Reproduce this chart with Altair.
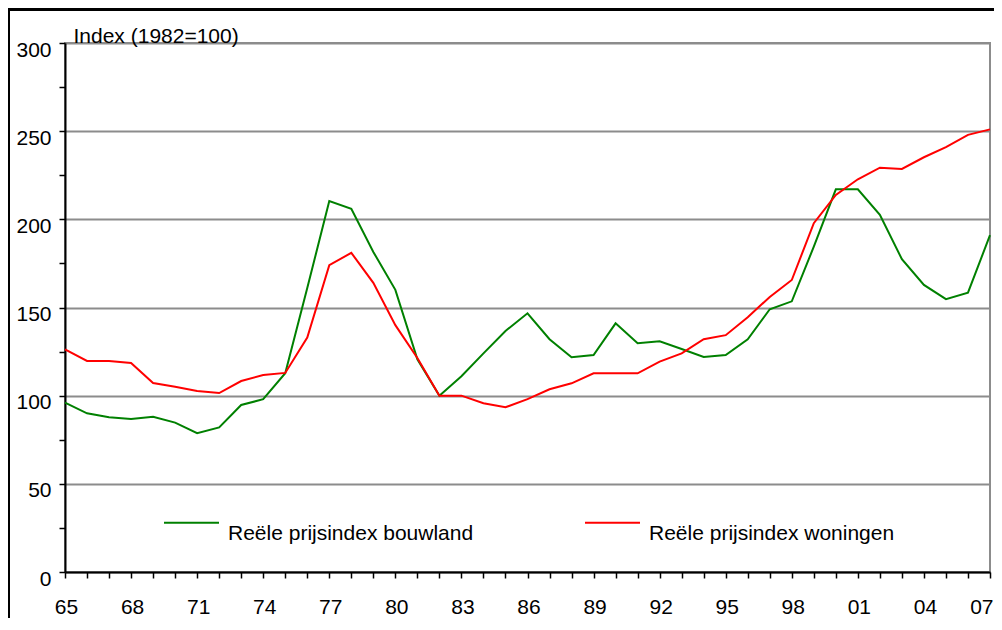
import altair as alt
import pandas as pd

years = list(range(1965, 2008))
bouwland = [96, 90, 87.7, 86.8, 88, 84.7, 78.7, 82, 94.7, 98, 112.7, 161, 210.4, 206,
            181.5, 160, 120.6, 100, 111, 124, 136.7, 146.7, 132, 121.8, 123, 141, 129.7,
            130.8, 126.5, 122, 123, 132, 149, 153.5, 184.5, 217, 217, 202.5, 177.4, 162.8,
            154.7, 158.4, 191]
woningen = [126.3, 119.7, 119.7, 118.5, 107.2, 105, 102.7, 101.5, 108.3, 111.7, 112.9, 133,
            174, 181, 164, 140, 121.4, 100, 100, 95.7, 93.4, 98, 103.6, 107, 112.7, 112.7,
            112.7, 119.3, 124, 132, 134.3, 144.5, 156, 165.6, 197.8, 213.8, 222.7, 229.3,
            228.6, 235.2, 240.9, 247.9, 251]
series_names = ["Reële prijsindex bouwland", "Reële prijsindex woningen"]
series_colors = ["#008000", "#ff0000"]
y_ticks = list(range(0, 301, 25))

rows = []
for name, vals in zip(series_names, [bouwland, woningen]):
    for yr, v in zip(years, vals):
        rows.append({"jaar": yr, "index": v, "reeks": name})
df = pd.DataFrame(rows)

FONT = "Liberation Sans"

x_label_expr = ("(datum.value - 1965) % 3 == 0 ? "
                "((datum.value % 100) < 10 ? '0' + (datum.value % 100) : '' + (datum.value % 100)) : ''")

lines = alt.Chart(df).mark_line(strokeWidth=2).encode(
    x=alt.X("jaar:Q",
            scale=alt.Scale(domain=[1965, 2007], nice=False, zero=False),
            axis=alt.Axis(values=years, labelExpr=x_label_expr, grid=False,
                          domainColor="black", domainWidth=2, tickColor="black",
                          tickWidth=1.5, tickSize=6, labelPadding=18, labelFlush=False,
                          labelOverlap=False, labelFont=FONT, labelFontSize=21,
                          labelColor="black",
                          labelAlign={"condition": {"test": "datum.value == 2007", "value": "right"}, "value": "center"},
                          labelOffset={"condition": {"test": "datum.value == 2007", "value": 3}, "value": 1}),
            title=None),
    y=alt.Y("index:Q",
            scale=alt.Scale(domain=[0, 300], nice=False),
            axis=alt.Axis(values=y_ticks,
                          labelExpr="datum.value % 50 == 0 ? datum.label : ''",
                          grid=True, gridColor="#8c8c8c", gridWidth=2,
                          gridOpacity={"condition": {"test": "datum.value % 50 == 0", "value": 1}, "value": 0},
                          domainColor="black", domainWidth=2, tickColor="black",
                          tickWidth=1.5, tickSize=6, labelPadding=8, labelOffset=7,
                          labelFlush=False, labelOverlap=False, labelFont=FONT,
                          labelFontSize=21, labelColor="black",
                          titleAngle=0, titleX=8, titleY=-1, titleAlign="left",
                          titleBaseline="alphabetic", titleFont=FONT, titleFontSize=21,
                          titleFontWeight="normal", titleColor="black"),
            title="Index (1982=100)"),
    color=alt.Color("reeks:N",
                    scale=alt.Scale(domain=series_names, range=series_colors),
                    legend=alt.Legend(orient="none", legendX=98, legendY=451,
                                      direction="horizontal", title=None,
                                      symbolType="stroke", symbolSize=3025,
                                      symbolStrokeWidth=2, labelFont=FONT,
                                      labelFontSize=21, labelOffset=8,
                                      labelBaseline="top",
                                      labelColor="black", labelLimit=500,
                                      columnPadding=107, padding=0)),
)

frame_df = pd.DataFrame({"k": [0]})
left_border = alt.Chart(frame_df).mark_rule(color="black", strokeWidth=3).encode(
    x=alt.value(-56.5), y=alt.value(-35), y2=alt.value(580))
top_border = alt.Chart(frame_df).mark_rule(color="black", strokeWidth=3).encode(
    x=alt.value(-57), x2=alt.value(929), y=alt.value(-33.5))

chart = alt.layer(lines, left_border, top_border).properties(
    width=925, height=529,
    padding={"left": 57, "top": 35, "right": 4, "bottom": 46},
    autosize=alt.AutoSizeParams(type="none"),
    background="white",
).configure_view(stroke="#8c8c8c", strokeWidth=2)

chart.save("out.html", embed_options={"renderer": "svg", "actions": False})
